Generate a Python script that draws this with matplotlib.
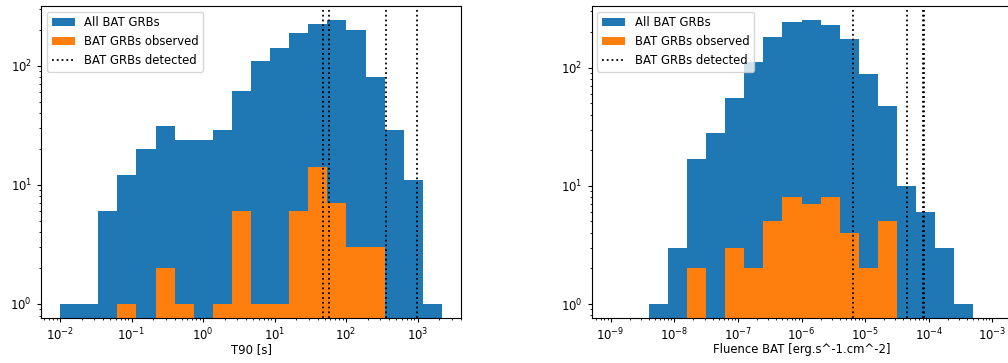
import numpy as np
import matplotlib
matplotlib.use("Agg")
import matplotlib.pyplot as plt

# T90 histogram (20 log bins from 1e-2 to ~2.2e3 s)
t90_edges = np.logspace(-2, 3.34, 21)
t90_all = [1, 1, 6, 12, 20, 31, 24, 24, 29, 61, 109, 140, 187, 225, 240, 198, 81, 29, 11, 1]
t90_obs = [0, 0, 0, 1, 0, 2, 1, 0, 1, 6, 1, 1, 6, 14, 7, 3, 3, 0, 0, 0]
t90_detected = [47.2, 57.3, 356, 975]

# fluence histogram (20 log bins from 1e-9 to 1e-3)
flu_edges = np.logspace(-9, -3, 21)
flu_all = [0, 0, 1, 3, 17, 28, 55, 112, 183, 244, 252, 230, 174, 88, 47, 10, 6, 3, 1, 0]
flu_obs = [0, 0, 0, 0, 2, 0, 3, 2, 5, 8, 7, 8, 4, 2, 5, 0, 0, 0, 0, 0]
flu_detected = [6.35e-6, 4.49e-5, 8.2e-5, 8.5e-5]

plt.rcParams["font.size"] = 8.4
plt.rcParams["xtick.major.size"] = 3
plt.rcParams["ytick.major.size"] = 3
plt.rcParams["xtick.minor.size"] = 1.7
plt.rcParams["ytick.minor.size"] = 1.7
plt.rcParams["lines.linewidth"] = 1.3

fig = plt.figure(figsize=(10.08, 3.63), dpi=100)
ax1 = fig.add_axes([41 / 1008, 45.3 / 363, 420 / 1008, 312 / 363])
ax2 = fig.add_axes([591.5 / 1008, 45.3 / 363, 420 / 1008, 312 / 363])


def panel(ax, edges, all_counts, obs_counts, detected, xlabel, ylim):
    centers = np.sqrt(edges[:-1] * edges[1:])
    ax.hist(centers, bins=edges, weights=all_counts, label="All BAT GRBs")
    ax.hist(centers, bins=edges, weights=obs_counts, label="BAT GRBs observed")
    for i, d in enumerate(detected):
        ax.axvline(d, color="k", ls=":", label="BAT GRBs detected" if i == 0 else None)
    ax.set_xscale("log")
    ax.set_yscale("log")
    ax.set_ylim(*ylim)
    ax.set_xlabel(xlabel, labelpad=0)
    ax.legend(loc="upper left")


panel(ax1, t90_edges, t90_all, t90_obs, t90_detected, "T90 [s]", (0.767, 319))
panel(ax2, flu_edges, flu_all, flu_obs, flu_detected,
      "Fluence BAT [erg.s^-1.cm^-2]", (0.766, 335))

fig.savefig("out.png", dpi=100)
